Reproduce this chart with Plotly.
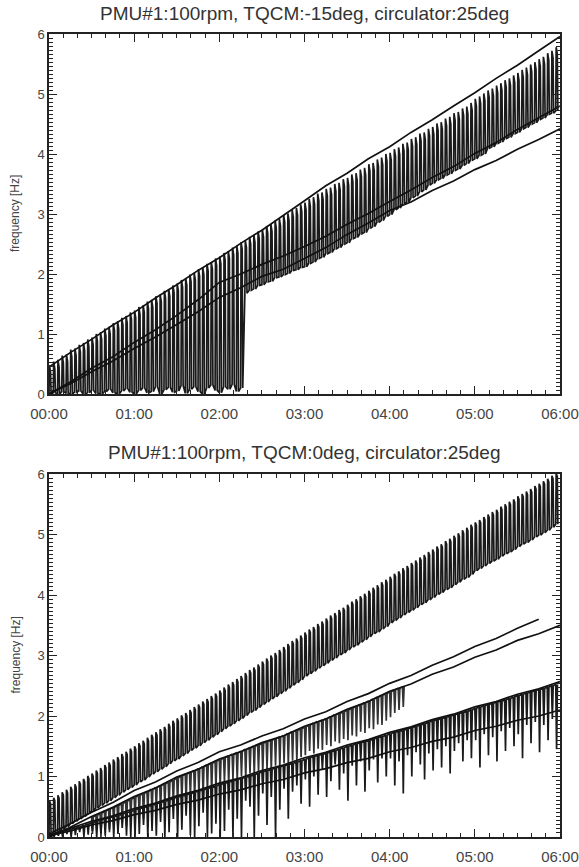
import numpy as np
import pandas as pd
import plotly.graph_objects as go

# ---------------- data ----------------
BASE = pd.Timestamp("2000-01-01 00:00")
TOOTH_STEP_MIN = 3      # one oscillation record every 3 minutes
LINE_STEP_MIN = 15      # solid traces sampled every 15 minutes

TITLE_TOP = "PMU#1:100rpm, TQCM:-15deg, circulator:25deg"
TITLE_BOT = "PMU#1:100rpm, TQCM:0deg, circulator:25deg"
Y_TITLE = "frequency [Hz]"

# --- top panel: oscillating band (tops / bottoms of each swing) ---
A_TOP = [0.48, 0.54, 0.57, 0.64, 0.66, 0.74, 0.76, 0.82, 0.85, 0.91, 0.94, 1.00, 1.03, 1.09, 1.12, 1.18, 1.21, 1.27, 1.30, 1.36,
         1.39, 1.45, 1.48, 1.54, 1.57, 1.63, 1.66, 1.72, 1.75, 1.81, 1.84, 1.90, 1.93, 1.99, 2.02, 2.08, 2.11, 2.17, 2.20, 2.26,
         2.29, 2.35, 2.38, 2.44, 2.47, 2.53, 2.56, 2.62, 2.65, 2.71, 2.74, 2.80, 2.83, 2.89, 2.92, 2.98, 3.01, 3.07, 3.10, 3.16,
         3.19, 3.25, 3.28, 3.34, 3.36, 3.42, 3.44, 3.50, 3.52, 3.58, 3.60, 3.66, 3.68, 3.74, 3.77, 3.83, 3.85, 3.91, 3.94, 4.00,
         4.02, 4.08, 4.11, 4.17, 4.19, 4.25, 4.28, 4.34, 4.36, 4.42, 4.45, 4.51, 4.53, 4.59, 4.62, 4.68, 4.70, 4.76, 4.79, 4.85,
         4.92, 4.96, 5.01, 5.06, 5.09, 5.14, 5.18, 5.23, 5.26, 5.31, 5.35, 5.40, 5.44, 5.49, 5.53, 5.58, 5.62, 5.68, 5.72, 5.78]
A_BOT = [0.00, 0.02, 0.00, 0.04, 0.01, 0.00, 0.03, 0.05, 0.00, 0.02, 0.06, 0.01, 0.00, 0.04, 0.08, 0.02, 0.00, 0.05, 0.09, 0.03,
         0.00, 0.06, 0.10, 0.02, 0.04, 0.12, 0.00, 0.07, 0.11, 0.03, 0.05, 0.14, 0.01, 0.08, 0.12, 0.04, 0.00, 0.10, 0.15, 0.06,
         0.02, 0.12, 0.08, 0.16, 0.04, 0.10, 1.68, 1.73, 1.75, 1.81, 1.82, 1.87, 1.88, 1.94, 1.95, 1.99, 2.01, 2.06, 2.07, 2.11,
         2.12, 2.18, 2.20, 2.26, 2.28, 2.34, 2.36, 2.42, 2.44, 2.50, 2.52, 2.59, 2.61, 2.67, 2.69, 2.76, 2.79, 2.86, 2.89, 2.96,
         2.99, 3.07, 3.10, 3.17, 3.20, 3.27, 3.30, 3.37, 3.40, 3.48, 3.51, 3.57, 3.59, 3.65, 3.67, 3.73, 3.75, 3.81, 3.84, 3.90,
         3.92, 3.98, 4.00, 4.10, 4.12, 4.18, 4.20, 4.26, 4.28, 4.34, 4.36, 4.42, 4.44, 4.50, 4.52, 4.58, 4.60, 4.66, 4.68, 4.72]

# --- top panel: solid traces (every 15 min) ---
T_LINE = [0.45, 0.69, 0.91, 1.15, 1.36, 1.60, 1.82, 2.06, 2.27, 2.51, 2.73, 2.97, 3.22, 3.47, 3.68, 3.92, 4.12, 4.36, 4.57,
          4.80, 5.02, 5.26, 5.48, 5.72, 5.96]
LA_LINE = [0.00, 0.20, 0.43, 0.62, 0.86, 1.07, 1.31, 1.57, 1.86, 2.00, 2.16, 2.30, 2.46, 2.63, 2.83, 3.01, 3.21, 3.40, 3.61,
           3.79, 4.01, 4.19, 4.41, 4.60, 4.80]
LB_LINE = [0.00, 0.17, 0.37, 0.55, 0.76, 0.95, 1.16, 1.37, 1.61, 1.77, 1.96, 2.08, 2.26, 2.44, 2.66, 2.85, 3.06, 3.20, 3.39,
           3.55, 3.74, 3.89, 4.08, 4.24, 4.42]

# --- bottom panel: upper oscillating band ---
B_TOP = [0.60, 0.65, 0.69, 0.74, 0.78, 0.83, 0.87, 0.92, 0.96, 1.01, 1.05, 1.10, 1.14, 1.19, 1.23, 1.28, 1.32, 1.37, 1.41, 1.46,
         1.50, 1.55, 1.59, 1.64, 1.69, 1.73, 1.78, 1.82, 1.87, 1.92, 1.96, 2.01, 2.05, 2.10, 2.15, 2.19, 2.24, 2.28, 2.33, 2.37,
         2.42, 2.47, 2.52, 2.56, 2.61, 2.66, 2.71, 2.76, 2.80, 2.85, 2.90, 2.95, 3.00, 3.04, 3.09, 3.14, 3.19, 3.24, 3.28, 3.33,
         3.38, 3.43, 3.47, 3.52, 3.56, 3.61, 3.66, 3.70, 3.75, 3.79, 3.84, 3.89, 3.93, 3.98, 4.02, 4.07, 4.12, 4.16, 4.21, 4.25,
         4.30, 4.35, 4.39, 4.44, 4.48, 4.53, 4.57, 4.62, 4.66, 4.71, 4.75, 4.80, 4.84, 4.89, 4.93, 4.98, 5.02, 5.07, 5.11, 5.16,
         5.20, 5.24, 5.29, 5.33, 5.37, 5.41, 5.46, 5.50, 5.54, 5.58, 5.63, 5.67, 5.71, 5.75, 5.80, 5.84, 5.88, 5.92, 5.97, 6.01]
B_BOT = [0.00, 0.05, 0.08, 0.13, 0.17, 0.22, 0.26, 0.30, 0.34, 0.39, 0.43, 0.48, 0.52, 0.56, 0.60, 0.65, 0.69, 0.74, 0.78, 0.82,
         0.86, 0.91, 0.94, 0.99, 1.04, 1.08, 1.12, 1.16, 1.21, 1.26, 1.29, 1.34, 1.38, 1.43, 1.47, 1.51, 1.56, 1.60, 1.65, 1.69,
         1.74, 1.79, 1.83, 1.87, 1.92, 1.96, 2.01, 2.06, 2.09, 2.14, 2.19, 2.23, 2.28, 2.32, 2.37, 2.41, 2.46, 2.51, 2.55, 2.60,
         2.66, 2.70, 2.74, 2.79, 2.83, 2.87, 2.92, 2.96, 3.01, 3.04, 3.09, 3.14, 3.17, 3.22, 3.26, 3.31, 3.36, 3.39, 3.44, 3.48,
         3.54, 3.58, 3.62, 3.67, 3.71, 3.75, 3.79, 3.84, 3.87, 3.92, 3.96, 4.01, 4.04, 4.09, 4.12, 4.17, 4.21, 4.26, 4.29, 4.34,
         4.40, 4.44, 4.48, 4.52, 4.56, 4.59, 4.64, 4.68, 4.71, 4.75, 4.80, 4.84, 4.87, 4.91, 4.96, 4.99, 5.03, 5.07, 5.12, 5.17]

# --- bottom panel: middle pair of traces with hanging swings (0:30 - 4:09) ---
P_FIRST_TOOTH = 10
P_TOP = [0.33, 0.36, 0.39, 0.43, 0.46, 0.49, 0.52, 0.55, 0.59, 0.62,
         0.66, 0.69, 0.72, 0.75, 0.79, 0.82, 0.85, 0.88, 0.91, 0.94, 0.98, 1.01, 1.04, 1.07, 1.10, 1.13, 1.16, 1.19, 1.22, 1.25,
         1.28, 1.31, 1.34, 1.37, 1.39, 1.42, 1.45, 1.47, 1.50, 1.52, 1.55, 1.58, 1.60, 1.63, 1.65, 1.68, 1.71, 1.74, 1.76, 1.79,
         1.82, 1.85, 1.88, 1.91, 1.93, 1.96, 1.99, 2.02, 2.04, 2.07, 2.10, 2.13, 2.16, 2.19, 2.22, 2.25, 2.28, 2.31, 2.34, 2.37,
         2.40, 2.43, 2.46, 2.48]
P_BOT = [0.05, 0.12, 0.00, 0.15, 0.08, 0.20, 0.10, 0.25, 0.18, 0.30,
         0.25, 0.35, 0.30, 0.42, 0.38, 0.45, 0.40, 0.50, 0.48, 0.55, 0.52, 0.60, 0.58, 0.65, 0.62, 0.70, 0.68, 0.75, 0.72, 0.80,
         0.82, 0.90, 0.86, 0.95, 0.92, 1.00, 0.96, 1.05, 1.02, 1.08, 1.06, 1.12, 1.10, 1.18, 1.15, 1.22, 1.20, 1.26, 1.25, 1.32,
         1.35, 1.42, 1.38, 1.46, 1.44, 1.52, 1.50, 1.58, 1.55, 1.62, 1.60, 1.68, 1.66, 1.74, 1.72, 1.80, 1.78, 1.86, 1.85, 1.92,
         1.98, 2.05, 2.10, 2.15]
PU_LINE = [0.05, 0.22, 0.41, 0.57, 0.77, 0.91, 1.09, 1.23, 1.41, 1.52, 1.67, 1.79, 1.95, 2.07, 2.24, 2.37, 2.54, 2.67, 2.84,
           2.98, 3.15, 3.28, 3.45, 3.60]
PL_LINE = [0.00, 0.16, 0.34, 0.49, 0.67, 0.81, 0.99, 1.12, 1.29, 1.41, 1.56, 1.67, 1.83, 1.95, 2.11, 2.24, 2.41, 2.53, 2.69,
           2.81, 2.97, 3.09, 3.25, 3.36, 3.50]

# --- bottom panel: lower pair of traces with hanging swings ---
C_TOP = [0.03, 0.05, 0.07, 0.09, 0.11, 0.13, 0.15, 0.17, 0.19, 0.22, 0.24, 0.26, 0.28, 0.30, 0.32, 0.34, 0.36, 0.38, 0.40, 0.42,
         0.45, 0.47, 0.49, 0.51, 0.53, 0.55, 0.57, 0.59, 0.61, 0.64, 0.66, 0.68, 0.70, 0.72, 0.74, 0.76, 0.78, 0.80, 0.82, 0.84,
         0.87, 0.89, 0.91, 0.93, 0.95, 0.97, 0.99, 1.01, 1.03, 1.06, 1.08, 1.10, 1.12, 1.14, 1.16, 1.18, 1.20, 1.22, 1.24, 1.26,
         1.29, 1.31, 1.33, 1.35, 1.37, 1.39, 1.41, 1.43, 1.45, 1.48, 1.50, 1.52, 1.54, 1.56, 1.58, 1.60, 1.62, 1.64, 1.66, 1.68,
         1.71, 1.73, 1.75, 1.77, 1.79, 1.81, 1.83, 1.85, 1.87, 1.90, 1.92, 1.94, 1.96, 1.98, 2.00, 2.02, 2.04, 2.06, 2.08, 2.10,
         2.13, 2.15, 2.17, 2.19, 2.21, 2.23, 2.25, 2.27, 2.29, 2.32, 2.34, 2.36, 2.38, 2.40, 2.42, 2.44, 2.46, 2.48, 2.50, 2.52]
C_BOT = [0.00, 0.00, 0.02, 0.00, 0.05, 0.00, 0.03, 0.08, 0.00, 0.04, 0.10, 0.00, 0.06, 0.02, 0.12, 0.00, 0.05, 0.15, 0.02, 0.00,
         0.00, 0.05, 0.20, 0.00, 0.10, 0.02, 0.25, 0.00, 0.08, 0.30, 0.00, 0.12, 0.35, 0.03, 0.00, 0.18, 0.40, 0.00, 0.06, 0.22,
         0.00, 0.10, 0.45, 0.00, 0.30, 0.00, 0.60, 0.50, 0.00, 0.35, 0.72, 0.20, 0.66, 0.00, 0.45, 0.80, 0.30, 0.75, 0.85, 0.55,
         0.95, 0.50, 1.00, 0.70, 1.12, 0.66, 0.92, 1.20, 0.78, 1.05, 0.60, 1.18, 0.85, 1.25, 0.75, 1.10, 1.28, 0.90, 1.30, 1.00,
         1.30, 0.85, 1.25, 0.72, 1.35, 1.00, 1.40, 1.20, 0.95, 1.38, 1.10, 1.45, 1.15, 1.50, 1.05, 1.42, 1.55, 1.25, 1.60, 1.30,
         1.60, 1.15, 1.70, 1.35, 1.65, 1.25, 1.75, 1.42, 1.80, 1.50, 1.70, 1.30, 1.85, 1.55, 1.90, 1.40, 1.85, 1.60, 1.95, 1.45]
CU_LINE = [0.03, 0.14, 0.26, 0.35, 0.47, 0.56, 0.68, 0.77, 0.89, 0.98, 1.10, 1.19, 1.31, 1.40, 1.52, 1.61, 1.73, 1.82, 1.94,
           2.03, 2.15, 2.24, 2.36, 2.45, 2.57]
CL_LINE = [0.02, 0.10, 0.20, 0.27, 0.37, 0.44, 0.54, 0.61, 0.71, 0.78, 0.88, 0.95, 1.06, 1.13, 1.23, 1.30, 1.41, 1.48, 1.58,
           1.65, 1.76, 1.83, 1.93, 2.00, 2.10]

# ---------------- helpers ----------------
def to_time(minutes):
    return BASE + pd.to_timedelta(np.asarray(minutes, dtype=float), unit="m")


def tooth_minutes(n, first=0):
    return (np.arange(n) + first) * TOOTH_STEP_MIN


def line_minutes(n):
    return np.arange(n) * LINE_STEP_MIN


def rising_pulses(t, bot, top, hook):
    xs, ys = [], []
    for ti, b, h in zip(t, bot, top):
        xs += [ti, ti + 0.3, ti + 1.1, ti + 1.5]
        ys += [b, h, h - hook, b]
    return xs, ys


def hanging_pulses(t, top, bot):
    xs, ys = [], []
    for ti, h, b in zip(t, top, bot):
        xs += [ti, ti + 0.6, ti + 1.2]
        ys += [h, b, h]
    return xs, ys


fig = go.Figure()
INK = "#111111"
TOOTH_W = 1.7
LINE_W = 1.7


def add_line(xm, y, axis, width, color=INK):
    fig.add_trace(go.Scatter(
        x=to_time(xm), y=y, mode="lines",
        line=dict(color=color, width=width),
        xaxis="x" if axis == 1 else "x2", yaxis="y" if axis == 1 else "y2",
        hoverinfo="skip", showlegend=False))


# top panel
xa, ya = rising_pulses(tooth_minutes(len(A_TOP)), A_BOT, A_TOP, 0.12)
add_line(xa, ya, 1, TOOTH_W, "#1a1a1a")
add_line(line_minutes(len(T_LINE)), T_LINE, 1, LINE_W)
add_line(line_minutes(len(LA_LINE)), LA_LINE, 1, LINE_W)
add_line(line_minutes(len(LB_LINE)), LB_LINE, 1, LINE_W)

# bottom panel
xb, yb = rising_pulses(tooth_minutes(len(B_TOP)), B_BOT, B_TOP, 0.05)
add_line(xb, yb, 2, TOOTH_W, "#1a1a1a")
xp, yp = hanging_pulses(tooth_minutes(len(P_TOP), P_FIRST_TOOTH), P_TOP, P_BOT)
add_line(xp, yp, 2, TOOTH_W, "#333333")
xc, yc = hanging_pulses(tooth_minutes(len(C_TOP)), C_TOP, C_BOT)
add_line(xc, yc, 2, TOOTH_W, "#1a1a1a")
for arr in (PU_LINE, PL_LINE, CU_LINE, CL_LINE):
    add_line(line_minutes(len(arr)), arr, 2, LINE_W)

# ---------------- layout ----------------
FONT = "Liberation Sans, Arial, Helvetica, sans-serif"
W, H = 579, 867
ML, MR, MT, MB = 49, 19, 34, 30
plot_h = H - MT - MB
top_dom = [1 - 360 / plot_h, 1.0]
bot_dom = [0.0, 1 - 440 / plot_h]

t0 = BASE
t1 = BASE + pd.Timedelta(hours=6)


def xaxis(anchor):
    return dict(
        type="date", range=[t0, t1], anchor=anchor, automargin=False,
        tickformat="%H:%M", tick0=t0, dtick=3600000,
        ticks="inside", ticklen=8, tickwidth=1.2, tickcolor="#222",
        showline=True, linecolor="#222", linewidth=1.5, mirror="allticks",
        showgrid=False, zeroline=False, ticklabelstandoff=5,
        minor=dict(dtick=600000, tick0=t0, ticks="inside", ticklen=4, tickwidth=1, tickcolor="#222", showgrid=False),
        tickfont=dict(family=FONT, size=15, color="#444"),
    )


def yaxis(anchor, dom):
    return dict(
        range=[0, 6], domain=dom, anchor=anchor, automargin=False,
        tick0=0, dtick=1,
        ticks="inside", ticklen=8, tickwidth=1.2, tickcolor="#222",
        showline=True, linecolor="#222", linewidth=1.5, mirror="allticks",
        showgrid=False, zeroline=False,
        minor=dict(dtick=1 / 15, tick0=0, ticks="inside", ticklen=4, tickwidth=1, tickcolor="#222", showgrid=False),
        tickfont=dict(family=FONT, size=13, color="#444"),
    )


plot_w = W - ML - MR
annos = [
    dict(text=TITLE_TOP, x=0.5, y=1 + (MT - 14) / plot_h, xref="paper", yref="paper",
         showarrow=False, xanchor="center", yanchor="middle", font=dict(family=FONT, size=19, color="#333")),
    dict(text=TITLE_BOT, x=0.5, y=(H - MB - 452) / plot_h, xref="paper", yref="paper",
         showarrow=False, xanchor="center", yanchor="middle", font=dict(family=FONT, size=19, color="#333")),
    dict(text=Y_TITLE, x=(15 - ML) / plot_w, y=sum(top_dom) / 2, xref="paper", yref="paper",
         showarrow=False, xanchor="center", yanchor="middle", textangle=-90,
         font=dict(family=FONT, size=12, color="#444")),
    dict(text=Y_TITLE, x=(15 - ML) / plot_w, y=sum(bot_dom) / 2, xref="paper", yref="paper",
         showarrow=False, xanchor="center", yanchor="middle", textangle=-90,
         font=dict(family=FONT, size=12, color="#444")),
]

fig.update_layout(
    width=W, height=H,
    margin=dict(l=ML, r=MR, t=MT, b=MB, pad=0, autoexpand=False),
    paper_bgcolor="white", plot_bgcolor="white",
    xaxis=xaxis("y"), yaxis=yaxis("x", top_dom),
    xaxis2=xaxis("y2"), yaxis2=yaxis("x2", bot_dom),
    annotations=annos,
    showlegend=False,
)

fig.write_html("out.html")
